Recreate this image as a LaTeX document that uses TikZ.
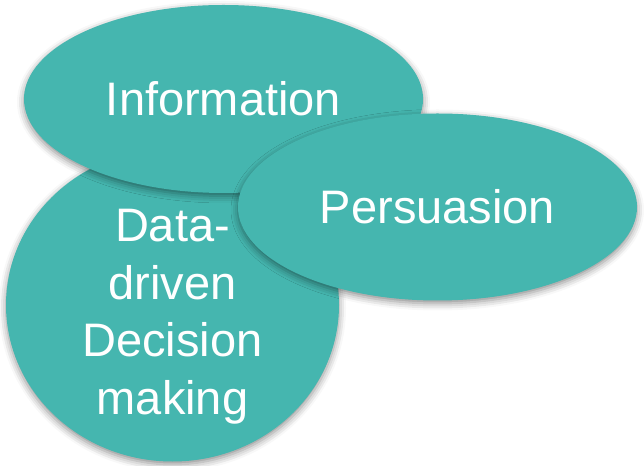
\documentclass[tikz,border=0pt]{standalone}
\usepackage{fontspec}
\setmainfont{Liberation Sans}
\usetikzlibrary{shapes.geometric,shadows.blur}
\definecolor{tealfill}{HTML}{45B6AF}
\tikzset{
  blob/.style={ellipse, fill=tealfill, inner sep=0pt, text=white,
    font=\fontsize{47}{57.5}\selectfont,
    blur shadow={shadow xshift=0pt, shadow yshift=-3pt, shadow blur radius=7pt, shadow opacity=45}},
  lbl/.style={text=white, align=center, inner sep=0pt, font=\fontsize{47}{57.5}\selectfont}
}
\begin{document}
\begin{tikzpicture}[x=1pt,y=1pt]
\useasboundingbox (0,0) rectangle (644,465);
\node[blob, minimum width=333pt, minimum height=313pt] (data) at (172.5,160) {};
\node[lbl] (datatext) at (172.5,148.5) {Data-\\driven\\Decision\\making};
\node[blob, minimum width=399pt, minimum height=188pt] (info) at (223.5,366) {Information};
\node[blob, minimum width=399pt, minimum height=187pt] (pers) at (437.5,258) {Persuasion};
\end{tikzpicture}
\end{document}
